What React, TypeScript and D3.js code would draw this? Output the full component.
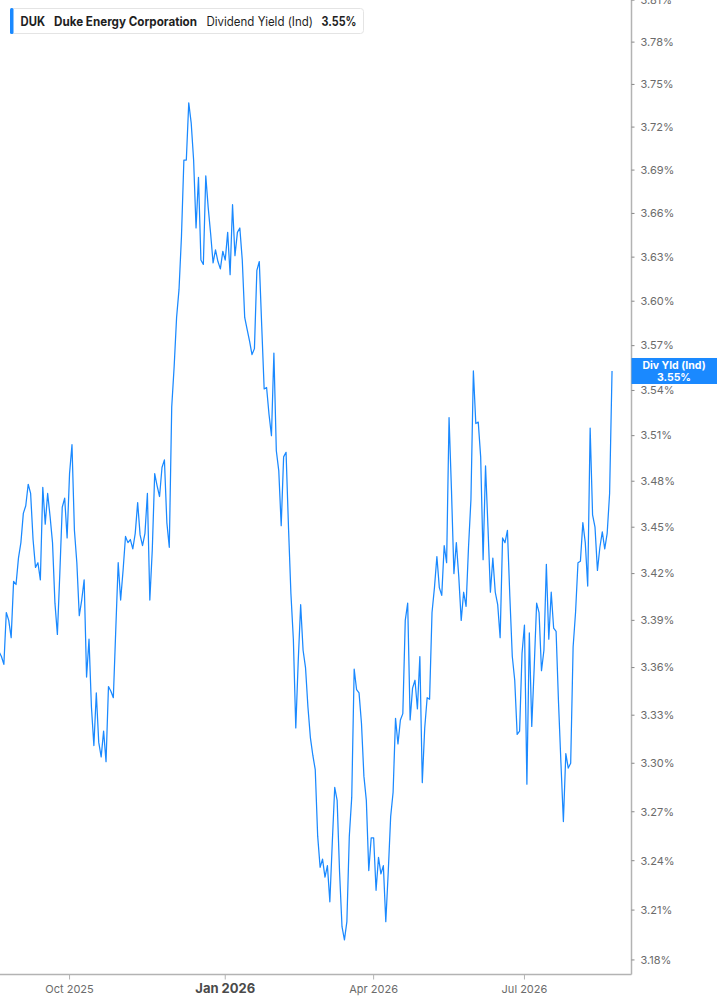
import React, { useEffect, useRef } from "react";
import * as d3 from "d3";

const ticker = "DUK";
const companyName = "Duke Energy Corporation";
const metricName = "Dividend Yield (Ind)";
const shortMetric = "Div Yld (Ind)";

// first trading day shown, and exchange holidays to skip
const firstDay = "2025-08-20";
const marketHolidays = [
    "2025-09-01", "2025-11-27", "2025-12-25", "2026-01-01", "2026-01-19",
    "2026-02-16", "2026-04-03", "2026-05-25", "2026-06-19", "2026-07-03",
];

// daily indicated dividend yield, %
const yieldValues = [
    3.370, 3.367, 3.362, 3.395, 3.390, 3.379, 3.415, 3.413, 3.430, 3.440,
    3.459, 3.464, 3.478, 3.472, 3.442, 3.424, 3.427, 3.416, 3.476, 3.452,
    3.472, 3.457, 3.440, 3.401, 3.381, 3.420, 3.463, 3.469, 3.443, 3.485,
    3.504, 3.448, 3.427, 3.393, 3.403, 3.416, 3.354, 3.378, 3.335, 3.311,
    3.344, 3.313, 3.304, 3.320, 3.301, 3.348, 3.345, 3.341, 3.384, 3.427,
    3.403,
    3.422, 3.444, 3.440, 3.442, 3.436, 3.446, 3.466, 3.445, 3.438, 3.446,
    3.472, 3.403, 3.435, 3.485, 3.477, 3.470, 3.489, 3.494, 3.453, 3.437,
    3.529, 3.556, 3.589, 3.608, 3.644, 3.697, 3.697, 3.737, 3.723, 3.697,
    3.650, 3.685, 3.628, 3.625, 3.686, 3.664, 3.646, 3.626, 3.635, 3.627,
    3.622,
    3.634, 3.628, 3.647, 3.618, 3.666, 3.631, 3.647, 3.650, 3.628, 3.589,
    3.581, 3.573, 3.564, 3.568, 3.621, 3.627, 3.583, 3.541, 3.542, 3.524,
    3.510, 3.565, 3.500, 3.487, 3.451, 3.496, 3.499, 3.450, 3.407, 3.378,
    3.322, 3.364, 3.400, 3.371, 3.360, 3.335, 3.316,
    3.305, 3.296, 3.255, 3.236, 3.241, 3.230, 3.237, 3.215, 3.251, 3.285,
    3.277, 3.233, 3.200, 3.192, 3.203, 3.255, 3.279, 3.359, 3.346, 3.344,
    3.325, 3.292, 3.277, 3.234, 3.254, 3.254, 3.222, 3.242, 3.232, 3.237,
    3.203, 3.233, 3.267, 3.282, 3.328, 3.312, 3.327, 3.331, 3.390, 3.401,
    3.327, 3.347, 3.352, 3.334, 3.367, 3.288, 3.322,
    3.341, 3.340, 3.395, 3.411, 3.431, 3.411, 3.406, 3.438, 3.427, 3.522,
    3.474, 3.420, 3.440, 3.418, 3.390, 3.408, 3.399, 3.437, 3.468, 3.553,
    3.518, 3.519, 3.496, 3.429, 3.490, 3.450, 3.408, 3.430, 3.408, 3.400,
    3.379, 3.443, 3.440, 3.448, 3.405, 3.367, 3.352, 3.318, 3.320, 3.369,
    3.387, 3.287, 3.382,
    3.323, 3.360, 3.401, 3.395, 3.358, 3.371, 3.426, 3.378, 3.408, 3.385,
    3.383, 3.338, 3.300, 3.264, 3.306, 3.297, 3.300, 3.373, 3.395, 3.427,
    3.428, 3.453, 3.440, 3.412, 3.515, 3.458, 3.450, 3.422, 3.437, 3.447,
    3.436, 3.446, 3.472, 3.553,
];

const yTickValues = [
    3.18, 3.21, 3.24, 3.27, 3.30, 3.33, 3.36, 3.39, 3.42, 3.45, 3.48,
    3.51, 3.54, 3.57, 3.60, 3.63, 3.66, 3.69, 3.72, 3.75, 3.78, 3.81,
];

// months that get an x-axis label (0 = Jan)
const labelMonths = [0, 3, 6, 9];

const W = 717;
const H = 1005;
const BLUE = "#1a89ff";
const FONT = "Inter, 'Noto Sans', sans-serif";

const fmtKey = d3.timeFormat("%Y-%m-%d");
const fmtMonth = d3.timeFormat("%b %Y");

function buildTradingDays(start: string, count: number) {
    const out: Date[] = [];
    const skip = new Set(marketHolidays);
    const d = new Date(start + "T12:00:00");
    while (out.length < count) {
        const dow = d.getDay();
        if (dow !== 0 && dow !== 6 && !skip.has(fmtKey(d))) out.push(new Date(d));
        d.setDate(d.getDate() + 1);
    }
    return out;
}

export default function App() {
    const svgRef = useRef<SVGSVGElement | null>(null);

    useEffect(() => {
        if (!svgRef.current) return;
        const svg = d3.select(svgRef.current);
        svg.selectAll("*").remove();

        const plotRight = 631.5;
        const plotBottom = 974.5;

        const days = buildTradingDays(firstDay, yieldValues.length);

        const x = d3.scaleLinear()
            .domain([0, yieldValues.length - 1 + 8])
            .range([-1, plotRight]);

        const y = d3.scaleLog()
            .domain([3.1713, 3.8101])
            .range([plotBottom, 0]);

        svg.append("defs").append("clipPath")
            .attr("id", "plot-clip")
            .append("rect")
            .attr("x", 0).attr("y", 0)
            .attr("width", plotRight).attr("height", plotBottom);

        // the series
        const line = d3.line<number>()
            .x((_, i) => x(i))
            .y(d => y(d));

        svg.append("path")
            .datum(yieldValues)
            .attr("clip-path", "url(#plot-clip)")
            .attr("fill", "none")
            .attr("stroke", BLUE)
            .attr("stroke-width", 1.25)
            .attr("stroke-linejoin", "round")
            .attr("d", line);

        // axes frame
        svg.append("line")
            .attr("x1", plotRight).attr("x2", plotRight)
            .attr("y1", 0).attr("y2", plotBottom)
            .attr("stroke", "#b3b3b3").attr("stroke-width", 1.5);
        svg.append("line")
            .attr("x1", 0).attr("x2", plotRight)
            .attr("y1", plotBottom).attr("y2", plotBottom)
            .attr("stroke", "#b3b3b3").attr("stroke-width", 1.5);

        // y ticks + labels
        const yt = svg.append("g");
        yTickValues.forEach(v => {
            const py = y(v);
            yt.append("line")
                .attr("x1", plotRight).attr("x2", plotRight + 3)
                .attr("y1", py).attr("y2", py)
                .attr("stroke", "#888").attr("stroke-width", 1);
            yt.append("text")
                .attr("x", plotRight + 9)
                .attr("y", py)
                .attr("dy", "0.35em")
                .attr("font-family", FONT)
                .attr("font-size", 11)
                .attr("fill", "#6b6b6b")
                .text(`${v.toFixed(2)}%`);
        });

        // x ticks: first trading day of each labelled month
        const xt = svg.append("g");
        days.forEach((d, i) => {
            if (i === 0) return;
            const prev = days[i - 1];
            if (d.getMonth() === prev.getMonth()) return;
            if (!labelMonths.includes(d.getMonth())) return;
            const px = x(i);
            const isYear = d.getMonth() === 0;
            xt.append("line")
                .attr("x1", px).attr("x2", px)
                .attr("y1", plotBottom).attr("y2", plotBottom + 5)
                .attr("stroke", "#b3b3b3").attr("stroke-width", 1);
            xt.append("text")
                .attr("x", px)
                .attr("y", 993)
                .attr("text-anchor", "middle")
                .attr("font-family", FONT)
                .attr("font-size", isYear ? 13 : 11)
                .attr("font-weight", isYear ? 700 : 400)
                .attr("fill", isYear ? "#4a4a4a" : "#6b6b6b")
                .text(fmtMonth(d));
        });

        // last value marker on the axis
        const last = yieldValues[yieldValues.length - 1];
        const ly = y(last);
        const tag = svg.append("g");
        tag.append("rect")
            .attr("x", plotRight).attr("y", ly - 13)
            .attr("width", W - plotRight).attr("height", 26)
            .attr("fill", BLUE);
        tag.append("text")
            .attr("x", 674).attr("y", ly - 6)
            .attr("dy", "0.35em")
            .attr("text-anchor", "middle")
            .attr("font-family", FONT).attr("font-size", 10.5).attr("font-weight", 700)
            .attr("fill", "#fff")
            .text(shortMetric);
        tag.append("text")
            .attr("x", 674).attr("y", ly + 6)
            .attr("dy", "0.35em")
            .attr("text-anchor", "middle")
            .attr("font-family", FONT).attr("font-size", 10.5).attr("font-weight", 700)
            .attr("fill", "#fff")
            .text(`${last.toFixed(2)}%`);

        // legend chip
        const lg = svg.append("g");
        lg.append("rect")
            .attr("x", 10.5).attr("y", 8.5)
            .attr("width", 353).attr("height", 25)
            .attr("rx", 3)
            .attr("fill", "#fff").attr("stroke", "#e4e4e4");
        lg.append("rect")
            .attr("x", 10).attr("y", 8)
            .attr("width", 3.5).attr("height", 26)
            .attr("rx", 1.5)
            .attr("fill", BLUE);

        const parts = [
            { text: ticker, x: 20.5, w: 24.5, bold: true },
            { text: companyName, x: 54, w: 143, bold: true },
            { text: metricName, x: 206.5, w: 106.5, bold: false },
            { text: `${last.toFixed(2)}%`, x: 321.5, w: 35, bold: true },
        ];
        parts.forEach(p => {
            lg.append("text")
                .attr("x", p.x).attr("y", 25.5)
                .attr("font-family", FONT)
                .attr("font-size", 12.5)
                .attr("font-weight", p.bold ? 700 : 400)
                .attr("fill", "#1f1f1f")
                .attr("textLength", p.w)
                .attr("lengthAdjust", "spacingAndGlyphs")
                .text(p.text);
        });
    }, []);

    return (
        <div style={{ position: "absolute", left: 0, top: 0, width: W, height: H, background: "#fff" }}>
            <svg ref={svgRef} width={W} height={H} style={{ display: "block" }} />
        </div>
    );
}
